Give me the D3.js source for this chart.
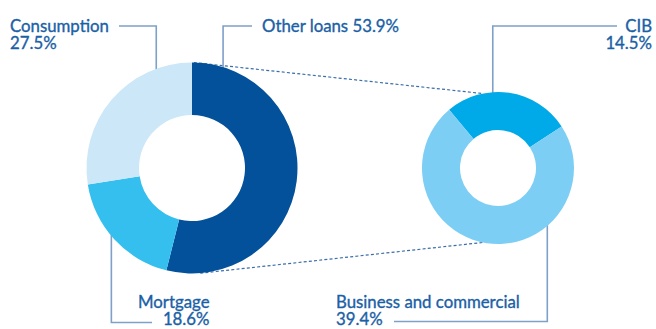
<!DOCTYPE html>
<html>
<head>
<meta charset="utf-8">
<script src="https://cdn.jsdelivr.net/npm/d3@7"></script>
<style>
  html, body { margin: 0; padding: 0; background: #fff; }
  svg { display: block; }
  text { font-family: Lato, "Open Sans", sans-serif; fill: #1b5fa6; stroke: #1b5fa6; stroke-width: 0.35px; }
</style>
</head>
<body>
<svg id="chart" width="656" height="329"></svg>
<script>
// ---- data ----
const mainCategories = ["Other loans", "Mortgage", "Consumption"];
const mainValues = [53.9, 18.6, 27.5];
const mainColors = ["#03519b", "#35bfef", "#cbe7f8"];

const subCategories = ["CIB", "Business and commercial"];
const subValues = [14.5, 39.4];
const subColors = ["#00a9e7", "#7dcef4"];

// ---- layout ----
const W = 656, H = 329;
const svg = d3.select("#chart");
const deg = Math.PI / 180;

const L = { cx: 192, cy: 168, R: 105.5, r: 53 };
const Rt = { cx: 498, cy: 168, R: 76, r: 38 };

const pieMain = d3.pie().sort(null).value(d => d).startAngle(0).endAngle(2 * Math.PI);
const pieSub = d3.pie().sort(null).value(d => d).startAngle(-40 * deg).endAngle(-40 * deg + 2 * Math.PI);

const arcMain = d3.arc().innerRadius(L.r).outerRadius(L.R);
const arcSub = d3.arc().innerRadius(Rt.r).outerRadius(Rt.R);

function pt(c, ang, rad) {
  return [c.cx + rad * Math.sin(ang), c.cy - rad * Math.cos(ang)];
}

// dashed connector lines (behind donuts)
const connectors = [
  [pt(L, 1 * deg, L.R), pt(Rt, -11.5 * deg, Rt.R)],
  [pt(L, 175.5 * deg, L.R), pt(Rt, 191.5 * deg, Rt.R)]
];
svg.append("g").selectAll("line").data(connectors).join("line")
  .attr("x1", d => d[0][0]).attr("y1", d => d[0][1])
  .attr("x2", d => d[1][0]).attr("y2", d => d[1][1])
  .attr("stroke", "#3a6eaa").attr("stroke-width", 1.2)
  .attr("stroke-dasharray", "3,2.2");

// leader lines
const lineColor = "#7fa0c8";
const leaders = [
  { c: L, a: -20, hx: 119, y: 26 },
  { c: L, a: 17.3, hx: 252, y: 26 },
  { c: L, a: 230.5, hx: 152, y: 322.5 },
  { c: Rt, a: -4, hx: 617, y: 26 },
  { c: Rt, a: 138.9, hx: 394, y: 321.5 }
];
svg.append("g").selectAll("polyline").data(leaders).join("polyline")
  .attr("points", d => {
    const p = pt(d.c, d.a * deg, d.c.R - 1);
    return [[d.hx, d.y], [p[0], d.y], p].map(q => q.join(",")).join(" ");
  })
  .attr("fill", "none").attr("stroke", lineColor).attr("stroke-width", 1.6);

// donuts
svg.append("g").attr("transform", `translate(${L.cx},${L.cy})`)
  .selectAll("path").data(pieMain(mainValues)).join("path")
  .attr("d", arcMain).attr("fill", (d, i) => mainColors[i]);

svg.append("g").attr("transform", `translate(${Rt.cx},${Rt.cy})`)
  .selectAll("path").data(pieSub(subValues)).join("path")
  .attr("d", arcSub).attr("fill", (d, i) => subColors[i]);

// labels
const fs = 16.8;
const labels = [
  { lines: [mainCategories[2], mainValues[2].toFixed(1) + "%"], x: 10, y: 31.5, anchor: "start" },
  { lines: [mainCategories[0] + " " + mainValues[0].toFixed(1) + "%"], x: 262, y: 31.5, anchor: "start" },
  { lines: [subCategories[0], subValues[0].toFixed(1) + "%"], x: 652, y: 31.5, anchor: "end" },
  { lines: [mainCategories[1], mainValues[1].toFixed(1) + "%"], x: 209.5, y: 307.5, anchor: "end" },
  { lines: [subCategories[1], subValues[1].toFixed(1) + "%"], x: 336, y: 307.5, anchor: "start" }
];
const lg = svg.append("g");
labels.forEach(l => {
  l.lines.forEach((s, i) => {
    lg.append("text").attr("x", l.x).attr("y", l.y + i * 17)
      .attr("text-anchor", l.anchor).attr("font-size", fs).text(s);
  });
});
</script>
</body>
</html>
